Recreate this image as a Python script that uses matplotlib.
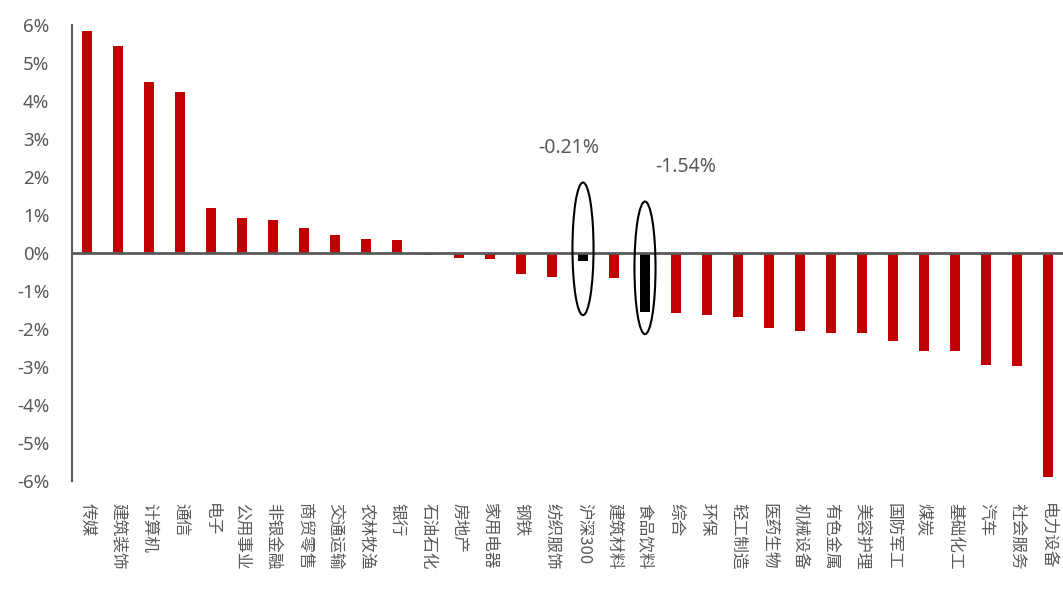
import numpy as np
import matplotlib.pyplot as plt
from matplotlib.patches import Ellipse

plt.rcParams['font.family'] = ['Noto Sans CJK SC', 'DejaVu Sans']

industries = ['传媒', '建筑装饰', '计算机', '通信', '电子', '公用事业', '非银金融', '商贸零售',
              '交通运输', '农林牧渔', '银行', '石油石化', '房地产', '家用电器', '钢铁', '纺织服饰',
              '沪深300', '建筑材料', '食品饮料', '综合', '环保', '轻工制造', '医药生物', '机械设备',
              '有色金属', '美容护理', '国防军工', '煤炭', '基础化工', '汽车', '社会服务', '电力设备']
returns = [5.85, 5.46, 4.49, 4.25, 1.18, 0.91, 0.86, 0.67, 0.48, 0.37, 0.33, -0.05, -0.13, -0.15,
           -0.54, -0.62, -0.21, -0.65, -1.54, -1.59, -1.62, -1.69, -1.98, -2.05, -2.11, -2.11,
           -2.31, -2.58, -2.59, -2.96, -2.97, -5.89]
highlight = ['沪深300', '食品饮料']

grey = '#595959'
colors = ['black' if name in highlight else '#C00000' for name in industries]

fig = plt.figure(figsize=(10.63, 5.90), dpi=100)
ax = fig.add_axes([71.5 / 1063, 109 / 590, 992 / 1063, 456 / 590])

x = np.arange(len(industries))
ax.bar(x, returns, width=0.32, color=colors, zorder=2)

ax.set_xlim(-0.5, len(industries) - 0.5)
ax.set_ylim(-6, 6)
ax.set_yticks(np.arange(-6, 7, 1))
ax.set_yticklabels(['%d%%' % v for v in range(-6, 7)], family='Noto Sans')
ax.tick_params(axis='y', length=0, pad=16, labelsize=13.5, labelcolor=grey)

ax.set_xticks(x)
ax.set_xticklabels(industries, rotation=270, ha='center', va='top')
ax.tick_params(axis='x', length=0, pad=16, labelsize=12, labelcolor=grey)

for s in ['top', 'right', 'bottom']:
    ax.spines[s].set_visible(False)
ax.spines['left'].set_color(grey)
ax.spines['left'].set_linewidth(1.5)
ax.axhline(0, color=grey, linewidth=2, zorder=3)

# circle the benchmark and food & beverage bars, with their values above
for name in highlight:
    i = industries.index(name)
    v = returns[i]
    cy = 0.11 if v > -1 else -0.39
    ax.add_patch(Ellipse((i, cy), 0.68, 3.49, fill=False, edgecolor='black',
                         linewidth=1.5, zorder=4))
ax.text(15.55, 2.76, '%.2f%%' % returns[industries.index('沪深300')], ha='center', va='center',
        fontsize=14, color=grey, family='Noto Sans')
ax.text(19.32, 2.26, '%.2f%%' % returns[industries.index('食品饮料')], ha='center', va='center',
        fontsize=14, color=grey, family='Noto Sans')

fig.savefig('out.png', dpi=100)
